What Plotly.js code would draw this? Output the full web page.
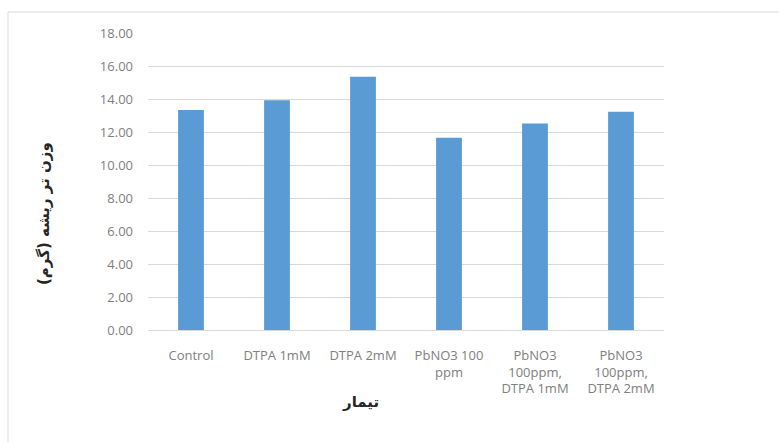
<!DOCTYPE html>
<html>
<head>
<meta charset="utf-8">
<script src="https://cdn.plot.ly/plotly-3.0.1.min.js"></script>
<style>
html,body{margin:0;padding:0;background:#fff;}
#chart{width:779px;height:442px;}
</style>
</head>
<body>
<div id="chart"></div>
<script>
const categories = ["Control", "DTPA 1mM", "DTPA 2mM", "PbNO3 100 ppm", "PbNO3 100ppm, DTPA 1mM", "PbNO3 100ppm, DTPA 2mM"];
const tickLabels = ["Control", "DTPA 1mM", "DTPA 2mM", "PbNO3 100<br>ppm", "PbNO3<br>100ppm,<br>DTPA 1mM", "PbNO3<br>100ppm,<br>DTPA 2mM"];
const values = [13.33, 13.92, 15.35, 11.65, 12.52, 13.23];
const yTicks = [0, 2, 4, 6, 8, 10, 12, 14, 16, 18];
const xTitle = "تیمار";
const yTitle = "وزن تر ریشه (گرم)";

const W = 779, H = 442;
const L = 148, R = 664, T = 33, B = 330;
const px = x => (x - L) / (R - L);
const py = y => (B - y) / (B - T);

const trace = {
  type: "bar",
  x: categories,
  y: values,
  marker: {color: "#5B9BD5"},
  hoverinfo: "x+y"
};

const layout = {
  width: W, height: H,
  margin: {l: L, r: W - R, t: T, b: H - B, pad: 0},
  paper_bgcolor: "#ffffff",
  plot_bgcolor: "#ffffff",
  bargap: 0.7,
  showlegend: false,
  font: {family: "Open Sans, DejaVu Sans, sans-serif", color: "#7f7f7f"},
  xaxis: {
    type: "category",
    tickmode: "array",
    tickvals: categories,
    ticktext: tickLabels,
    tickangle: 0,
    ticks: "",
    ticklabelstandoff: 13,
    tickfont: {size: 13, color: "#808080", family: "Open Sans, sans-serif"},
    showline: true,
    linecolor: "#d9d9d9",
    linewidth: 1,
    showgrid: false,
    zeroline: false
  },
  yaxis: {
    range: [0, 18],
    tickmode: "array",
    tickvals: yTicks,
    ticktext: yTicks.map(v => v.toFixed(2)),
    ticks: "",
    ticklabelstandoff: 14,
    tickfont: {size: 13, color: "#808080", family: "Open Sans, sans-serif"},
    showgrid: true,
    gridcolor: "#d9d9d9",
    gridwidth: 1,
    zeroline: false,
    showline: false
  },
  annotations: [
    {
      text: "<b>" + xTitle + "</b>",
      xref: "paper", yref: "paper",
      x: px(360), y: py(402),
      xanchor: "center", yanchor: "middle",
      showarrow: false,
      font: {size: 15, color: "#262626", family: "DejaVu Sans, Noto Sans, sans-serif"}
    },
    {
      text: "<b>" + yTitle + "</b>",
      xref: "paper", yref: "paper",
      x: px(44), y: py(214),
      xanchor: "center", yanchor: "middle",
      textangle: -90,
      showarrow: false,
      font: {size: 15, color: "#262626", family: "DejaVu Sans, Noto Sans, sans-serif"}
    }
  ],
  shapes: [
    {
      type: "rect", xref: "paper", yref: "paper",
      x0: px(8), x1: px(790), y0: py(12), y1: py(460),
      line: {color: "#d9d9d9", width: 1},
      fillcolor: "rgba(0,0,0,0)",
      layer: "below"
    }
  ]
};

Plotly.newPlot("chart", [trace], layout, {displayModeBar: false, staticPlot: true});
</script>
</body>
</html>
